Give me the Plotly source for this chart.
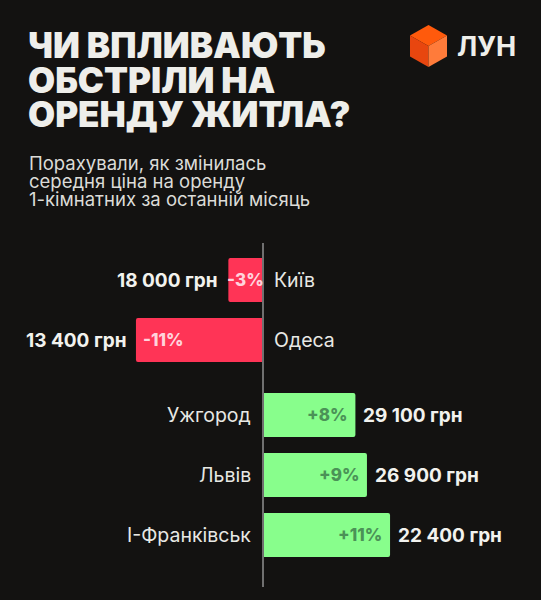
import plotly.graph_objects as go

# ---- data ----
cities = ["Київ", "Одеса", "Ужгород", "Львів", "І-Франківськ"]
change_pct = [-3, -11, 8, 9, 11]
price_uah = [18000, 13400, 29100, 26900, 22400]

title_lines = ["ЧИ ВПЛИВАЮТЬ", "ОБСТРІЛИ НА", "ОРЕНДУ ЖИТЛА?"]
subtitle_lines = ["Порахували, як змінилась", "середня ціна на оренду", "1-кімнатних за останній місяць"]
brand = "ЛУН"

# ---- styling ----
W, H = 541, 600
BG = "#131211"
RED = "#FF3456"
GREEN = "#88FE8C"
FONT = "Inter"
PX_PER_PCT = 11.55
AXIS_PX = 263

def fmt_price(p):
    return f"{p:,}".replace(",", " ") + " грн"

def fmt_pct(v):
    return f"{v:+d}%"

# y positions: leave an extra gap between the negative and positive groups
ypos = [i + (0.25 if v > 0 else 0) for i, v in enumerate(change_pct)]
colors = [RED if v < 0 else GREEN for v in change_pct]

fig = go.Figure()
fig.add_trace(go.Bar(
    x=change_pct, y=ypos, orientation="h", width=0.733,
    marker=dict(color=colors, line=dict(width=0)),
    hoverinfo="skip",
))

ann = []
for c, v, p, y in zip(cities, change_pct, price_uah, ypos):
    neg = v < 0
    bar_px = abs(v) * PX_PER_PCT
    pct_color = "#FFD3DC" if neg else "#4B9257"
    if bar_px < 45:
        ann.append(dict(x=v / 2, y=y, xref="x", yref="y", text=fmt_pct(v), showarrow=False,
                        xanchor="center", yanchor="middle",
                        font=dict(family=FONT, size=17, color=pct_color, weight=800)))
    else:
        ann.append(dict(x=v, y=y, xref="x", yref="y", text=fmt_pct(v), showarrow=False,
                        xanchor="left" if neg else "right", xshift=5 if neg else -6,
                        yanchor="middle",
                        font=dict(family=FONT, size=17, color=pct_color, weight=800)))
    ann.append(dict(x=v, y=y, xref="x", yref="y", text=fmt_price(p), showarrow=False,
                    xanchor="right" if neg else "left", xshift=-8 if neg else 6,
                    yanchor="middle",
                    font=dict(family=FONT, size=19, color="#F2F2EE", weight=700)))
    ann.append(dict(x=0, y=y, xref="x", yref="y", text=c, showarrow=False,
                    xanchor="left" if neg else "right", xshift=9 if neg else -10,
                    yanchor="middle",
                    font=dict(family=FONT, size=19.5, color="#E8E8E4", weight=400)))

def px(xp):
    return xp / W

def py(yp):
    return 1 - yp / H

for i, t in enumerate(title_lines):
    ann.append(dict(x=px(26), y=py(45 + i * 34.5), xref="paper", yref="paper", text=t,
                    showarrow=False, xanchor="left", yanchor="middle",
                    font=dict(family=FONT, size=35, color="#EEEEEA", weight=900)))
for i, t in enumerate(subtitle_lines):
    ann.append(dict(x=px(27), y=py(163 + i * 18), xref="paper", yref="paper", text=t,
                    showarrow=False, xanchor="left", yanchor="middle",
                    font=dict(family=FONT, size=18.5, color="#DCDCD8", weight=400)))
ann.append(dict(x=px(455), y=py(46), xref="paper", yref="paper", text=brand,
                showarrow=False, xanchor="left", yanchor="middle",
                font=dict(family=FONT, size=27, color="#EEEEEA", weight=700)))

shapes = []
shapes.append(dict(type="line", xref="x", yref="paper", x0=0, x1=0,
                   y0=py(243), y1=py(587), line=dict(color="#707070", width=2), layer="above"))

cx, cy, hw, hh = 428.5, 46, 18.5, 21
top = (cx, cy - hh); ur = (cx + hw, cy - hh / 2); lr = (cx + hw, cy + hh / 2)
bot = (cx, cy + hh); ll = (cx - hw, cy + hh / 2); ul = (cx - hw, cy - hh / 2); ctr = (cx, cy)

def path(pts):
    return "M " + " L ".join(f"{px(a):.5f},{py(b):.5f}" for a, b in pts) + " Z"

for pts, col in [([top, ur, ctr, ul], "#FF5A0C"),
                 ([ul, ctr, bot, ll], "#E8460F"),
                 ([ctr, ur, lr, bot], "#FF7B3A")]:
    shapes.append(dict(type="path", xref="paper", yref="paper", path=path(pts),
                       fillcolor=col, line=dict(width=0)))

fig.update_layout(
    width=W, height=H,
    margin=dict(l=0, r=0, t=0, b=0),
    paper_bgcolor=BG, plot_bgcolor=BG,
    showlegend=False,
    barcornerradius=2,
    xaxis=dict(range=[-AXIS_PX / PX_PER_PCT, (W - AXIS_PX) / PX_PER_PCT], visible=False, fixedrange=True),
    yaxis=dict(range=[5.3333, -4.6667], visible=False, fixedrange=True),
    annotations=ann,
    shapes=shapes,
)

fig.write_html("out.html", config={"displayModeBar": False},
               post_script="document.body.style.margin='0';document.body.style.background='#131211';")
